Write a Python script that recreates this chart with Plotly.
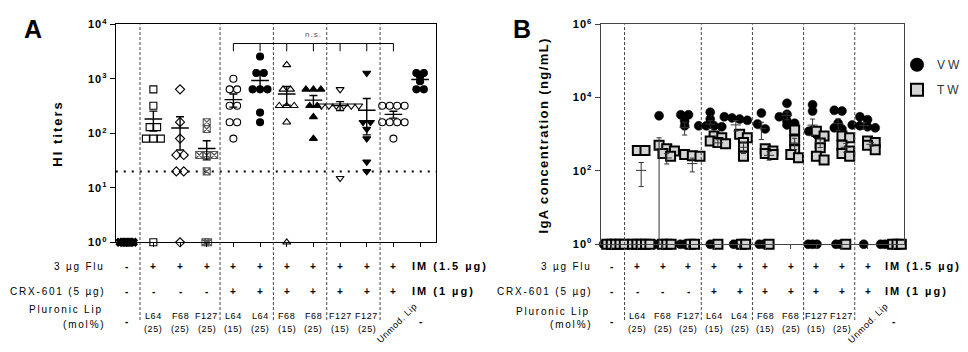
import numpy as np
import plotly.graph_objects as go

W, H = 968, 352

# ---------------- data ----------------
# Panel A: HI titers per group (values at 10^0 = below detection)
hi_naive = [1, 1, 1, 1, 1, 1]
hi_l64_25 = [640, 320, 130, 130, 80, 80, 80, 1]
hi_f68_25 = [640, 160, 80, 40, 40, 20, 20, 1]
hi_f127_25 = [160, 120, 40, 40, 40, 20, 1, 1]
hi_l64_15_crx = [1000, 640, 640, 320, 320, 160, 160, 80]
hi_l64_25_crx = [2560, 1280, 1280, 640, 640, 640, 240, 160]
hi_f68_15_crx = [1800, 640, 640, 320, 320, 320, 160, 1]
hi_f68_25_crx = [640, 640, 640, 320, 320, 200, 80]
hi_f127_15_crx = [640, 320, 320, 320, 320, 320, 320, 15]
hi_f127_25_crx = [1280, 160, 160, 120, 80, 30, 20]
hi_unmod_crx = [320, 320, 320, 320, 160, 160, 160, 160, 80]
hi_im = [1280, 1280, 1100, 900, 640, 640]
hi_groups = [hi_naive, hi_l64_25, hi_f68_25, hi_f127_25, hi_l64_15_crx, hi_l64_25_crx,
             hi_f68_15_crx, hi_f68_25_crx, hi_f127_15_crx, hi_f127_25_crx, hi_unmod_crx, hi_im]
hi_threshold = 20

# Panel B: IgA concentration (ng/mL), VW and TW washes
vw_groups = [
    [1, 1, 1, 1, 1],
    [1, 1, 1, 1, 1, 1],
    [3200, 1, 1, 1, 1, 1, 1, 1],
    [3400, 3400, 2300, 1700, 1, 1, 1],
    [4000, 2600, 1700, 1700, 1700, 1600, 1],
    [3000, 2800, 2600, 2400, 1, 1],
    [3800, 1900, 1400, 1, 1],
    [7000, 3500, 3000, 2300, 2000, 1800],
    [6400, 4300, 1300, 1200, 1000, 1, 1, 1],
    [4500, 4300, 2000, 1500, 1400, 1, 1],
    [3000, 2500, 1800, 1700, 1600, 1500, 1],
    [1, 1, 1, 1, 1],
]
tw_groups = [
    [1, 1, 1, 1, 1],
    [360, 360, 1, 1, 1, 1, 1],
    [500, 400, 350, 300, 250, 1, 1, 1],
    [280, 260, 250, 1, 1],
    [900, 800, 650, 600, 550, 1],
    [1000, 800, 600, 450, 250, 1, 1],
    [400, 350, 300, 280, 1],
    [1300, 700, 380, 280, 230],
    [1200, 900, 580, 430, 250, 200],
    [900, 800, 500, 350, 300, 250, 1],
    [650, 600, 500, 380],
    [1, 1, 1],
]

flu_row = ["-", "+", "+", "+", "+", "+", "+", "+", "+", "+", "+"]
crx_row = ["-", "-", "-", "-", "+", "+", "+", "+", "+", "+", "+"]
lip_names = ["L64", "F68", "F127", "L64", "L64", "F68", "F68", "F127", "F127"]
lip_mol = ["(25)", "(25)", "(25)", "(15)", "(25)", "(15)", "(25)", "(15)", "(25)"]
a_symbols = ["x", "square-open", "diamond-open", "square-x-open", "circle-open", "circle",
             "triangle-up-open", "triangle-up", "triangle-down-open", "triangle-down",
             "circle-open", "circle"]

FONT = "Liberation Sans, Arial, sans-serif"


def px_x(p):
    return p / W


def px_y(p):
    return 1 - p / H


def spaced(s, ls):
    if not ls:
        return s
    return '<span style="letter-spacing:%spx">%s</span>' % (ls, s)


def swarm(vals, step, binw, floor_step):
    logs = np.log10(np.asarray(vals, dtype=float))
    bins = np.round(logs / binw)
    offs = np.zeros(len(vals))
    for b in np.unique(bins):
        idx = np.where(bins == b)[0]
        k = len(idx)
        st = floor_step if b == 0 else step
        offs[idx] = (np.arange(k) - (k - 1) / 2) * st
    return offs


def mean_sem_lines(groups, shift, half, cap, floor=1.0):
    xs, ys = [], []
    for c, vals in enumerate(groups):
        v = np.asarray(vals, dtype=float)
        if len(v) < 2 or np.all(v == v[0]):
            continue
        m = v.mean()
        s = v.std(ddof=1) / np.sqrt(len(v))
        cx = c + shift
        xs += [cx - half, cx + half, None]
        ys += [m, m, None]
        lo = max(m - s, floor)
        hi = m + s
        xs += [cx, cx, None, cx - cap, cx + cap, None]
        ys += [lo, hi, None, hi, hi, None]
        if m - s > floor:
            xs += [cx - cap, cx + cap, None]
            ys += [lo, lo, None]
    return xs, ys


fig = go.Figure()

# ---------------- Panel A ----------------
fig.add_trace(go.Scatter(x=[-0.41, 11.6], y=[hi_threshold, hi_threshold], mode="lines",
                         line=dict(color="black", width=2, dash="2px,6px"),
                         xaxis="x", yaxis="y", showlegend=False, hoverinfo="skip"))
for c, vals in enumerate(hi_groups):
    offs = swarm(vals, 0.28, 0.07, 0.1)
    sym = a_symbols[c]
    col = "#555555" if sym == "square-x-open" else "black"
    fig.add_trace(go.Scatter(
        x=c + offs, y=vals, mode="markers", xaxis="x", yaxis="y",
        marker=dict(symbol=sym, size=7, color=col, line=dict(color=col, width=1.1)),
        cliponaxis=False, showlegend=False))
mx, my = mean_sem_lines(hi_groups, 0.0, 0.33, 0.15)
fig.add_trace(go.Scatter(x=mx, y=my, mode="lines", line=dict(color="black", width=1.4),
                         xaxis="x", yaxis="y", showlegend=False, cliponaxis=False,
                         hoverinfo="skip"))

# ---------------- Panel B ----------------
for name, groups, shift, sym, fill, lw in [
        ("VW", vw_groups, -0.15, "circle", "black", 0.5),
        ("TW", tw_groups, 0.15, "square", "#d4d4d4", 2)]:
    xs, ys = [], []
    for c, vals in enumerate(groups):
        offs = swarm(vals, 0.3, 0.2, 0.17)
        xs += list(c + shift + offs)
        ys += list(vals)
    fig.add_trace(go.Scatter(
        x=xs, y=ys, mode="markers", name=spaced(name, 3), legendgroup=name,
        xaxis="x2", yaxis="y2",
        marker=dict(symbol=sym, size=9, color=fill, line=dict(color="black", width=lw)),
        cliponaxis=False, showlegend=True))
for groups, shift in [(vw_groups, -0.15), (tw_groups, 0.15)]:
    mx, my = mean_sem_lines(groups, shift, 0.2, 0.1)
    fig.add_trace(go.Scatter(x=mx, y=my, mode="lines", line=dict(color="#333333", width=1),
                             xaxis="x2", yaxis="y2", showlegend=False, cliponaxis=False,
                             hoverinfo="skip"))

# ---------------- axes ----------------
tick_font = dict(family=FONT, size=11, color="black", weight="bold")
fig.update_layout(
    width=W, height=H, margin=dict(l=0, r=0, t=0, b=0),
    paper_bgcolor="white", plot_bgcolor="white",
    font=dict(family=FONT, color="black"),
    xaxis=dict(domain=[px_x(116), px_x(437)], range=[-0.41, 11.6], showline=True,
               mirror=True, linecolor="black", linewidth=1.3, ticks="outside",
               tickvals=list(range(12)), ticklen=4, tickcolor="black",
               showticklabels=False, showgrid=False, zeroline=False, anchor="y"),
    yaxis=dict(domain=[px_y(244), px_y(17)], type="log", range=[0, 4], showline=True,
               mirror=True, linecolor="black", linewidth=1.3, ticks="outside", ticklen=5,
               tickcolor="black", tickvals=[1, 10, 100, 1000, 10000],
               ticktext=[spaced("10<sup>%d</sup>" % i, 1) for i in range(5)],
               tickfont=tick_font, showgrid=False, zeroline=False, anchor="x"),
    xaxis2=dict(domain=[px_x(602), px_x(906)], range=[-0.43, 11.43], showline=True,
                mirror=True, linecolor="#444444", linewidth=1.3, ticks="outside",
                tickvals=list(range(12)), ticklen=4, tickcolor="#444444",
                showticklabels=False, showgrid=False, zeroline=False, anchor="y2"),
    yaxis2=dict(domain=[px_y(246), px_y(17)], type="log", range=[0, 6], showline=True,
                mirror=True, linecolor="#444444", linewidth=1.3, ticks="outside", ticklen=5,
                tickcolor="#444444", tickvals=[1, 100, 1e4, 1e6],
                ticktext=[spaced("10<sup>%d</sup>" % i, 1) for i in (0, 2, 4, 6)],
                tickfont=tick_font, showgrid=False, zeroline=False, anchor="x2"),
    legend=dict(x=px_x(899), y=px_y(44), xanchor="left", yanchor="top",
                font=dict(family=FONT, size=12, color="#333333"), bgcolor="rgba(0,0,0,0)",
                itemsizing="constant", tracegroupgap=6),
)

# ---------------- shapes ----------------
shapes = []
for xa in ["x", "x2"]:
    for b in [0.5, 3.5, 5.5, 7.5, 9.5]:
        shapes.append(dict(type="line", xref=xa, yref="paper", x0=b, x1=b,
                           y0=px_y(325), y1=px_y(17),
                           line=dict(color="#444444", width=1, dash="3px,2px")))
# significance bracket (panel A)
shapes.append(dict(type="line", xref="x", yref="paper", x0=4, x1=10, y0=px_y(37), y1=px_y(37),
                   line=dict(color="black", width=1)))
for c in range(4, 11):
    shapes.append(dict(type="line", xref="x", yref="paper", x0=c, x1=c, y0=px_y(37),
                       y1=px_y(45), line=dict(color="black", width=1)))
fig.update_layout(shapes=shapes)

# ---------------- annotations ----------------
ann = []


def text(x, y, s, xref="paper", size=10, bold=False, xanchor="center", angle=0,
         color="black", ls=0):
    ann.append(dict(x=x, y=y, xref=xref, yref="paper", text=spaced(s, ls), showarrow=False,
                    xanchor=xanchor, yanchor="middle", textangle=angle,
                    font=dict(family=FONT, size=size, color=color,
                              weight="bold" if bold else "normal")))


text(px_x(33), px_y(22), "A", size=25, bold=True)
text(px_x(523), px_y(22), "B", size=25, bold=True)
text(px_x(58), px_y(131), "HI titers", size=13, bold=True, angle=-90, ls=2)
text(px_x(545), px_y(133), "IgA concentration (ng/mL)", size=13, bold=True, angle=-90,
     ls=1.4)
text(7, px_y(28), "n.s.", xref="x", size=8, color="#555555", ls=1)

for xa, right, lipx, pl_y in [("x", 107, 398, 314), ("x2", 595, 870, 316)]:
    text(px_x(right), px_y(269), "3 µg Flu", size=10, xanchor="right", ls=1.8)
    text(px_x(right), px_y(295), "CRX-601 (5 µg)", size=10, xanchor="right", ls=1.8)
    text(px_x(right - 2), px_y(pl_y), "Pluronic Lip", size=10, xanchor="right", ls=1.8)
    text(px_x(right), px_y(330), "(mol%)", size=10, xanchor="right", ls=1.8)
    for c, s in enumerate(flu_row):
        text(c, px_y(269), s, xref=xa, size=10, bold=True)
    for c, s in enumerate(crx_row):
        text(c, px_y(295), s, xref=xa, size=10, bold=True)
    text(0, px_y(327), "-", xref=xa, size=10, bold=True)
    text(11, px_y(327), "-", xref=xa, size=10, bold=True)
    for i, (n, m) in enumerate(zip(lip_names, lip_mol)):
        text(i + 1, px_y(321), n, xref=xa, size=9, ls=0.6)
        text(i + 1, px_y(334), m, xref=xa, size=9, ls=0.6)
    text(px_x(lipx), px_y(328), "Unmod. Lip", size=9, angle=-45, ls=0.6)
    text(10.62, px_y(269), "IM (1.5 µg)", xref=xa, size=11, bold=True, xanchor="left",
         ls=2)
    text(10.62, px_y(295), "IM (1 µg)", xref=xa, size=11, bold=True, xanchor="left", ls=2)

fig.update_layout(annotations=ann)
fig.write_html("out.html")
